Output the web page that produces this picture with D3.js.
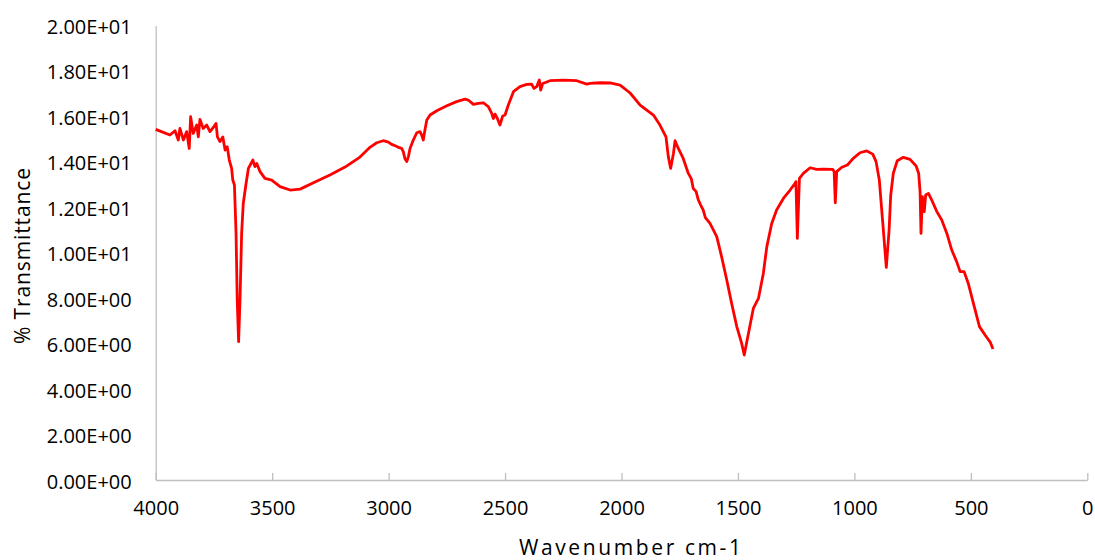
<!DOCTYPE html>
<html>
<head>
<meta charset="utf-8">
<script src="https://cdn.jsdelivr.net/npm/d3@7"></script>
<style>
  body { margin: 0; background: #fff; }
  svg text { font-family: "Open Sans", sans-serif; fill: #000; }
</style>
</head>
<body>
<svg id="chart" width="1095" height="560"></svg>
<script>
// FTIR spectrum
const wavenumber = [4000, 3939, 3917, 3903, 3896, 3881, 3867, 3856, 3850, 3839, 3824, 3817, 3810, 3796, 3781, 3767, 3750, 3741, 3735, 3724, 3712, 3702, 3693, 3684, 3674, 3669, 3662, 3655, 3650, 3644, 3638, 3631, 3624, 3612, 3602, 3583, 3574, 3566, 3552, 3531, 3502, 3466, 3423, 3380, 3316, 3252, 3187, 3123, 3080, 3051, 3023, 3001, 2987, 2972, 2958, 2944, 2937, 2930, 2922, 2915, 2908, 2894, 2879, 2865, 2858, 2851, 2844, 2836, 2822, 2793, 2750, 2708, 2672, 2658, 2636, 2615, 2593, 2572, 2557, 2550, 2543, 2533, 2522, 2510, 2500, 2486, 2464, 2436, 2407, 2386, 2376, 2364, 2353, 2347, 2338, 2307, 2250, 2192, 2149, 2135, 2092, 2049, 2006, 1963, 1920, 1863, 1835, 1809, 1799, 1789, 1777, 1770, 1756, 1735, 1713, 1700, 1692, 1680, 1670, 1660, 1649, 1640, 1620, 1591, 1570, 1548, 1527, 1505, 1484, 1473, 1455, 1434, 1412, 1391, 1376, 1355, 1334, 1305, 1276, 1255, 1251, 1245, 1236, 1219, 1190, 1162, 1133, 1093, 1087, 1082, 1076, 1054, 1030, 1005, 976, 947, 921, 907, 893, 878, 863, 851, 844, 833, 816, 790, 761, 735, 724, 718, 714, 708, 700, 694, 682, 668, 646, 625, 603, 582, 561, 546, 529, 511, 489, 463, 439, 417, 405];
const transmittance = [15.43, 15.18, 15.37, 14.96, 15.47, 14.96, 15.33, 14.59, 15.99, 15.25, 15.62, 15.10, 15.87, 15.47, 15.62, 15.33, 15.55, 15.69, 15.10, 14.89, 15.10, 14.52, 14.67, 14.08, 13.71, 13.20, 12.98, 10.87, 7.92, 6.09, 7.92, 10.85, 12.17, 13.05, 13.71, 14.08, 13.79, 13.93, 13.57, 13.27, 13.20, 12.91, 12.76, 12.80, 13.11, 13.42, 13.77, 14.21, 14.64, 14.84, 14.93, 14.87, 14.77, 14.71, 14.64, 14.59, 14.45, 14.15, 14.01, 14.23, 14.59, 14.96, 15.28, 15.33, 15.18, 14.96, 15.40, 15.84, 16.06, 16.25, 16.47, 16.65, 16.76, 16.72, 16.53, 16.57, 16.60, 16.43, 16.13, 15.91, 16.10, 15.91, 15.62, 16.02, 16.06, 16.50, 17.09, 17.31, 17.41, 17.42, 17.23, 17.31, 17.60, 17.16, 17.45, 17.57, 17.60, 17.57, 17.42, 17.45, 17.48, 17.47, 17.38, 17.03, 16.50, 16.06, 15.62, 15.10, 14.23, 13.71, 14.37, 14.93, 14.59, 14.15, 13.49, 13.25, 12.83, 12.70, 12.32, 12.10, 11.88, 11.55, 11.29, 10.71, 9.82, 8.80, 7.77, 6.75, 6.01, 5.50, 6.45, 7.55, 7.99, 9.09, 10.27, 11.29, 11.88, 12.39, 12.76, 13.05, 13.13, 10.63, 13.27, 13.49, 13.74, 13.67, 13.68, 13.67, 13.57, 12.20, 13.57, 13.76, 13.86, 14.15, 14.40, 14.48, 14.34, 14.01, 13.20, 11.29, 9.36, 11.00, 12.54, 13.49, 14.05, 14.20, 14.11, 13.82, 13.49, 12.68, 10.85, 12.47, 11.81, 12.54, 12.61, 12.32, 11.81, 11.44, 10.85, 10.12, 9.61, 9.17, 9.17, 8.65, 7.77, 6.75, 6.38, 6.07, 5.76];

const xTicks = [4000, 3500, 3000, 2500, 2000, 1500, 1000, 500, 0];
const yTicks = [0, 2, 4, 6, 8, 10, 12, 14, 16, 18, 20];
const yTickLabels = ["0.00E+00", "2.00E+00", "4.00E+00", "6.00E+00", "8.00E+00", "1.00E+01",
  "1.20E+01", "1.40E+01", "1.60E+01", "1.80E+01", "2.00E+01"];

const svg = d3.select("#chart");
const plotLeft = 155.7, plotRight = 1087.3, plotTop = 25.5, plotBottom = 480;

const x = d3.scaleLinear().domain([4000, 0]).range([plotLeft, plotRight]);
const y = d3.scaleLinear().domain([0, 20]).range([plotBottom, plotTop]);

// x axis, ticks pointing up
const xAxis = svg.append("g")
  .attr("transform", `translate(0,${plotBottom})`)
  .call(d3.axisBottom(x).tickValues(xTicks).tickFormat(d3.format("d"))
    .tickSizeInner(-7).tickSizeOuter(0).tickPadding(21));
xAxis.select(".domain").attr("stroke", "#bfbfbf").attr("stroke-width", 1.3);
xAxis.selectAll(".tick line").attr("stroke", "#bfbfbf").attr("stroke-width", 1.3);
xAxis.selectAll(".tick text").attr("font-size", 20).attr("font-family", "Open Sans");

// y axis, no ticks
const yAxis = svg.append("g")
  .attr("transform", `translate(${plotLeft},0)`)
  .call(d3.axisLeft(y).tickValues(yTicks).tickSize(0).tickPadding(24)
    .tickFormat((d, i) => yTickLabels[i]));
yAxis.select(".domain").attr("stroke", "#bfbfbf").attr("stroke-width", 1.3);
yAxis.selectAll(".tick text").attr("font-size", 20).attr("font-family", "Open Sans").attr("dy", "0.4em");

// spectrum
const points = wavenumber.map((w, i) => [w, transmittance[i]]);
svg.append("path")
  .datum(points)
  .attr("fill", "none")
  .attr("stroke", "#ff0000")
  .attr("stroke-width", 2.8)
  .attr("stroke-linejoin", "round")
  .attr("d", d3.line().x(d => x(d[0])).y(d => y(d[1])));

// titles
svg.append("text")
  .attr("x", 630).attr("y", 555)
  .attr("text-anchor", "middle")
  .attr("font-size", 21)
  .attr("textLength", 222)
  .attr("lengthAdjust", "spacing")
  .text("Wavenumber cm-1");

svg.append("text")
  .attr("transform", "translate(30,256) rotate(-90)")
  .attr("text-anchor", "middle")
  .attr("font-size", 21)
  .attr("textLength", 176)
  .attr("lengthAdjust", "spacing")
  .text("% Transmittance");
</script>
</body>
</html>
